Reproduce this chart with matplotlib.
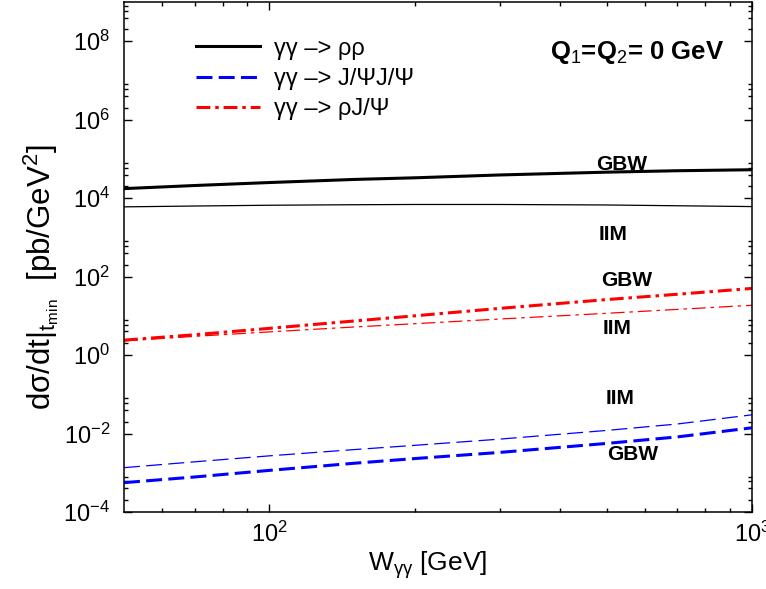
import numpy as np
import matplotlib
matplotlib.use('Agg')
import matplotlib.pyplot as plt
from matplotlib.ticker import FixedLocator, LogFormatterSciNotation, NullFormatter

plt.rcParams['font.family'] = ['Liberation Sans', 'DejaVu Sans']
plt.rcParams['mathtext.fontset'] = 'custom'
plt.rcParams['mathtext.rm'] = 'Liberation Sans'
plt.rcParams['mathtext.it'] = 'Liberation Sans'
plt.rcParams['mathtext.bf'] = 'Liberation Sans:bold'
plt.rcParams['lines.scale_dashes'] = False

# W_gamma gamma [GeV]
W = [50, 70, 100, 150, 200, 300, 500, 700, 1000]

# gamma gamma -> rho rho
rhorho_gbw = [1.75e4, 2.1e4, 2.5e4, 3.0e4, 3.3e4, 3.9e4, 4.6e4, 5.0e4, 5.3e4]
rhorho_iim = [6.0e3, 6.3e3, 6.6e3, 6.8e3, 6.9e3, 6.9e3, 6.7e3, 6.4e3, 6.1e3]

# gamma gamma -> rho J/Psi
rhojpsi_gbw = [2.4, 3.3, 4.8, 7.4, 10.0, 15.5, 26.0, 35.5, 50.0]
rhojpsi_iim = [2.3, 3.0, 3.9, 5.2, 6.3, 8.3, 11.6, 14.6, 18.6]

# gamma gamma -> J/Psi J/Psi
jpsijpsi_gbw = [5.6e-4, 7.8e-4, 1.15e-3, 1.75e-3, 2.3e-3, 3.3e-3, 5.6e-3, 8.2e-3, 1.4e-2]
jpsijpsi_iim = [1.35e-3, 1.9e-3, 2.7e-3, 3.9e-3, 5.0e-3, 7.2e-3, 1.2e-2, 1.75e-2, 3.0e-2]

fig = plt.figure(figsize=(7.66, 5.89), dpi=100)
ax = fig.add_axes([124/766, 1 - 512/589, 628/766, 510/589])

dash = (0, (11.5, 4.5))
dashdot = (0, (10, 3.5, 2.5, 3.5))

l1, = ax.plot(W, rhorho_gbw, color='black', lw=2.2, label='γγ –> ρρ')
ax.plot(W, rhorho_iim, color='black', lw=0.9)
l2, = ax.plot(W, jpsijpsi_gbw, color='#0000ff', lw=2.2, linestyle=dash, label='γγ –> J/ΨJ/Ψ')
ax.plot(W, jpsijpsi_iim, color='#0000ff', lw=0.9, linestyle=dash)
l3, = ax.plot(W, rhojpsi_gbw, color='#ff0000', lw=2.2, linestyle=dashdot, label='γγ –> ρJ/Ψ')
ax.plot(W, rhojpsi_iim, color='#ff0000', lw=0.9, linestyle=dashdot)

ax.set_xscale('log')
ax.set_yscale('log')
ax.set_xlim(50, 1000)
ax.set_ylim(1e-4, 1e9)

# ticks
ax.xaxis.set_major_locator(FixedLocator([100, 1000]))
ax.xaxis.set_minor_locator(FixedLocator([60, 70, 80, 90, 200, 300, 400, 500, 600, 700, 800, 900]))
ax.xaxis.set_minor_formatter(NullFormatter())
ax.xaxis.set_major_formatter(LogFormatterSciNotation())
ymaj = [10.0**e for e in range(-4, 10, 2)]
ymin = [s * 10.0**e for e in range(-4, 9, 2) for s in (2, 4, 6, 8)]
ax.yaxis.set_major_locator(FixedLocator(ymaj))
ax.yaxis.set_minor_locator(FixedLocator(ymin))
ax.yaxis.set_minor_formatter(NullFormatter())
ax.yaxis.set_major_formatter(LogFormatterSciNotation())
ax.tick_params(which='both', direction='in', top=True, right=True, width=1.0)
ax.tick_params(which='major', length=6, labelsize=17)
ax.tick_params(axis='y', which='major', pad=10)
ax.tick_params(axis='x', which='major', pad=7)
ax.tick_params(which='minor', length=3)
for s in ax.spines.values():
    s.set_linewidth(1.1)

ax.set_xlabel(r'W$_{\gamma\gamma}$ [GeV]', fontsize=19)
ax.xaxis.set_label_coords((428 - 124) / 628, (512 - 549) / 510)
ax.set_ylabel(r'd$\sigma$/dt$|_{t_{min}}$  [pb/GeV$^2$]', fontsize=22.5)
ax.yaxis.set_label_coords((61 - 124) / 628, (512 - 277) / 510)

leg = ax.legend(handles=[l1, l2, l3], loc='upper left', bbox_to_anchor=(0.115, 0.93),
                frameon=False, fontsize=17, handlelength=2.7, handletextpad=0.6,
                labelspacing=0.35, borderpad=0, borderaxespad=0)

ax.text((637 - 124) / 628, (512 - 53) / 510, r'Q$_1$=Q$_2$= 0 GeV', transform=ax.transAxes,
        fontsize=18.5, fontweight='bold', ha='center', va='center')

def lab(xp, yp, s):
    ax.text((xp - 124) / 628, (512 - yp) / 510, s, transform=ax.transAxes,
            fontsize=15, fontweight='bold', ha='center', va='center')

lab(622, 164, 'GBW')
lab(613, 235, 'IIM')
lab(627, 280, 'GBW')
lab(617, 329, 'IIM')
lab(620, 399, 'IIM')
lab(633, 455, 'GBW')

fig.savefig('out.png', dpi=100)
